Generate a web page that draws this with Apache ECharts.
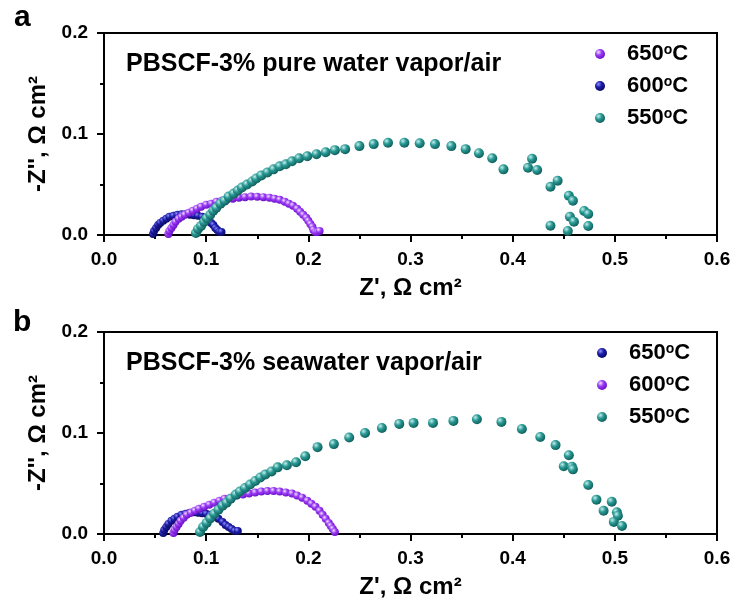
<!DOCTYPE html>
<html>
<head>
<meta charset="utf-8">
<script src="https://cdn.jsdelivr.net/npm/echarts@6/dist/echarts.min.js"></script>
<style>html,body{margin:0;padding:0;background:#fff}#c{width:737px;height:608px}</style>
</head>
<body>
<div id="c"></div>
<script>
// ---------- data (Z', -Z'') in ohm cm2 ----------
const xTicks = ['0.0','0.1','0.2','0.3','0.4','0.5','0.6'];
const yTicks = ['0.0','0.1','0.2'];

// panel a: pure water vapor/air
const aNames = ['650°C', '600°C', '550°C'];
const a650 = [[0.063,0.001],[0.064,0.004],[0.066,0.007],[0.068,0.010],[0.070,0.013],[0.073,0.016],[0.076,0.018],[0.079,0.020],[0.083,0.022],[0.087,0.024],[0.091,0.026],[0.095,0.028],[0.100,0.030],[0.105,0.031],[0.110,0.033],[0.115,0.034],[0.120,0.035],[0.126,0.036],[0.132,0.037],[0.138,0.0375],[0.144,0.038],[0.150,0.0378],[0.156,0.0375],[0.162,0.037],[0.167,0.036],[0.172,0.0348],[0.177,0.033],[0.181,0.031],[0.185,0.029],[0.189,0.026],[0.192,0.023],[0.195,0.020],[0.198,0.017],[0.200,0.014],[0.202,0.011],[0.204,0.008],[0.205,0.005],[0.207,0.003],[0.209,0.003],[0.211,0.004]];
const a600 = [[0.048,0.001],[0.049,0.004],[0.051,0.007],[0.053,0.010],[0.055,0.012],[0.058,0.014],[0.061,0.016],[0.064,0.018],[0.068,0.019],[0.072,0.020],[0.076,0.0205],[0.080,0.0205],[0.084,0.020],[0.088,0.0195],[0.092,0.019],[0.096,0.018],[0.099,0.016],[0.102,0.014],[0.105,0.012],[0.107,0.010],[0.109,0.007],[0.111,0.005],[0.113,0.003],[0.115,0.003]];
const a550 = [[0.090,0.002],[0.092,0.006],[0.095,0.009],[0.098,0.013],[0.1005,0.0165],[0.104,0.020],[0.107,0.024],[0.110,0.027],[0.114,0.031],[0.118,0.034],[0.122,0.038],[0.127,0.041],[0.131,0.044],[0.135,0.047],[0.140,0.050],[0.145,0.053],[0.149,0.056],[0.154,0.059],[0.160,0.062],[0.166,0.065],[0.172,0.068],[0.178,0.070],[0.184,0.073],[0.191,0.076],[0.199,0.078],[0.208,0.080],[0.217,0.082],[0.226,0.084],[0.236,0.085],[0.250,0.088],[0.264,0.090],[0.278,0.0914],[0.294,0.0914],[0.309,0.0908],[0.324,0.090],[0.340,0.088],[0.354,0.085],[0.367,0.081],[0.380,0.076],[0.391,0.065],[0.419,0.0755],[0.415,0.0666],[0.424,0.0644],[0.437,0.0478],[0.444,0.0538],[0.455,0.0389],[0.459,0.0339],[0.470,0.0238],[0.474,0.0208],[0.456,0.0181],[0.460,0.0132],[0.474,0.0089],[0.437,0.0092],[0.454,0.004]];

// panel b: seawater vapor/air
const bNames = ['650°C', '600°C', '550°C'];
const b650 = [[0.058,0.001],[0.059,0.004],[0.061,0.007],[0.063,0.010],[0.066,0.013],[0.069,0.015],[0.072,0.017],[0.076,0.019],[0.080,0.020],[0.084,0.021],[0.088,0.0215],[0.092,0.021],[0.096,0.0205],[0.100,0.020],[0.104,0.019],[0.108,0.017],[0.112,0.015],[0.116,0.012],[0.119,0.009],[0.122,0.007],[0.125,0.005],[0.128,0.003],[0.131,0.003]];
const b600 = [[0.068,0.001],[0.069,0.004],[0.071,0.007],[0.073,0.010],[0.075,0.013],[0.078,0.016],[0.081,0.019],[0.085,0.021],[0.089,0.023],[0.093,0.025],[0.098,0.027],[0.103,0.029],[0.108,0.031],[0.113,0.033],[0.118,0.035],[0.124,0.036],[0.130,0.038],[0.136,0.039],[0.142,0.040],[0.148,0.041],[0.154,0.042],[0.160,0.0425],[0.166,0.0425],[0.172,0.042],[0.178,0.041],[0.184,0.040],[0.189,0.038],[0.194,0.036],[0.199,0.033],[0.203,0.030],[0.207,0.027],[0.211,0.023],[0.214,0.019],[0.217,0.015],[0.220,0.011],[0.222,0.008],[0.224,0.005],[0.226,0.002]];
const b550 = [[0.094,0.002],[0.097,0.007],[0.1005,0.011],[0.104,0.0155],[0.108,0.020],[0.112,0.024],[0.116,0.028],[0.120,0.031],[0.124,0.035],[0.129,0.039],[0.133,0.042],[0.138,0.0455],[0.143,0.049],[0.148,0.0525],[0.153,0.056],[0.158,0.059],[0.164,0.062],[0.170,0.066],[0.179,0.068],[0.188,0.071],[0.197,0.077],[0.209,0.086],[0.225,0.089],[0.240,0.0955],[0.2555,0.100],[0.272,0.105],[0.289,0.109],[0.303,0.110],[0.322,0.110],[0.342,0.112],[0.365,0.1136],[0.389,0.111],[0.409,0.104],[0.427,0.096],[0.442,0.088],[0.455,0.078],[0.450,0.067],[0.458,0.0666],[0.459,0.064],[0.474,0.0485],[0.482,0.034],[0.497,0.032],[0.489,0.023],[0.502,0.0215],[0.503,0.018],[0.499,0.012],[0.507,0.008]];

const annoA = 'PBSCF-3% pure water vapor/air';
const annoB = 'PBSCF-3% seawater vapor/air';
const xTitle = "Z', Ω cm²";
const yTitle = "-Z'', Ω cm²";

// ---------- styling ----------
const FF = '"Liberation Sans", Arial, sans-serif';
function sphere(light, mid, dark) {
  return {type:'radial', x:0.35, y:0.32, r:0.7,
    colorStops:[{offset:0,color:light},{offset:0.45,color:mid},{offset:1,color:dark}]};
}
const VIOLET = sphere('#f1e2ff', '#9b3cf5', '#6a10c8');
const NAVY = sphere('#8f8fff', '#1c1ca8', '#0a0a60');
const TEAL = sphere('#c5efec', '#2a9994', '#0f5f5b');

function xAxis(gi) {
  return {
    gridIndex: gi, type:'value', min:0, max:0.6, interval:0.1,
    axisLine:{onZero:false, lineStyle:{color:'#000', width:2}},
    axisTick:{inside:false, length:7, lineStyle:{color:'#000', width:2}},
    minorTick:{show:true, splitNumber:2, length:4, lineStyle:{color:'#000', width:2}},
    splitLine:{show:false}, minorSplitLine:{show:false},
    axisLabel:{formatter:(v)=>xTicks[Math.round(v*10)], color:'#000', fontWeight:'bold', fontSize:19, fontFamily:FF, margin:15},
    name:xTitle, nameLocation:'middle', nameGap:41,
    nameTextStyle:{color:'#000', fontWeight:'bold', fontSize:24, fontFamily:FF}
  };
}
function yAxis(gi) {
  return {
    gridIndex: gi, type:'value', min:0, max:0.2, interval:0.1,
    axisLine:{onZero:false, lineStyle:{color:'#000', width:2}},
    axisTick:{inside:false, length:7, lineStyle:{color:'#000', width:2}},
    minorTick:{show:true, splitNumber:2, length:4, lineStyle:{color:'#000', width:2}},
    splitLine:{show:false}, minorSplitLine:{show:false},
    axisLabel:{formatter:(v)=>yTicks[Math.round(v*10)], color:'#000', fontWeight:'bold', fontSize:19, fontFamily:FF, margin:16},
    name:yTitle, nameLocation:'middle', nameGap:49, nameRotate:90,
    nameTextStyle:{color:'#000', fontWeight:'bold', fontSize:24, fontFamily:FF}
  };
}
function legendFmt(name) {
  const n = name.slice(2);
  const parts = n.split('°');
  return '{g| }{t|' + parts[0] + '}{s|o}{t|' + parts[1] + '}';
}
const legendRich = {
  g:{width:17},
  t:{fontSize:22, fontWeight:'bold', fontFamily:FF, color:'#000', lineHeight:22},
  s:{fontSize:14, fontWeight:'bold', fontFamily:FF, color:'#000', lineHeight:14, verticalAlign:'top'}
};
function legend(names, prefix, left, top) {
  return {
    data: names.map(n => prefix + n), orient:'vertical', left:left, top:top,
    itemWidth:10, itemHeight:10, itemGap:10, icon:'circle', padding:0,
    formatter: legendFmt, textStyle:{rich:legendRich, fontSize:22, lineHeight:22},
    selectedMode:false
  };
}
function sc(name, gi, data, color, size) {
  return {type:'scatter', name:name, xAxisIndex:gi, yAxisIndex:gi, data:data,
    symbol:'circle', symbolSize:size, itemStyle:{color:color, opacity:1}, silent:true};
}

const chart = echarts.init(document.getElementById('c'), null, {renderer:'canvas'});
chart.setOption({
  animation:false,
  backgroundColor:'#fff',
  grid:[
    {left:104, right:20, top:33, height:202, show:true, borderColor:'#000', borderWidth:2, backgroundColor:'transparent'},
    {left:104, right:20, top:332, height:202, show:true, borderColor:'#000', borderWidth:2, backgroundColor:'transparent'}
  ],
  xAxis:[xAxis(0), xAxis(1)],
  yAxis:[yAxis(0), yAxis(1)],
  legend:[legend(aNames, 'a-', 595, 43), legend(bNames, 'b-', 597, 342)],
  series:[
    sc('a-' + aNames[1], 0, a600, NAVY, 8),
    sc('a-' + aNames[0], 0, a650, VIOLET, 8),
    sc('a-' + aNames[2], 0, a550, TEAL, 10),
    sc('b-' + bNames[0], 1, b650, NAVY, 8),
    sc('b-' + bNames[1], 1, b600, VIOLET, 8),
    sc('b-' + bNames[2], 1, b550, TEAL, 10)
  ],
  graphic:[
    {type:'text', x:14, y:17.5, style:{text:'a', fontSize:30, fontWeight:'bold', fontFamily:FF, fill:'#000', verticalAlign:'middle'}},
    {type:'text', x:13, y:322.5, style:{text:'b', fontSize:30, fontWeight:'bold', fontFamily:FF, fill:'#000', verticalAlign:'middle'}},
    {type:'text', x:126, y:64.5, style:{text:annoA, fontSize:25, fontWeight:'bold', fontFamily:FF, fill:'#000', verticalAlign:'middle'}},
    {type:'text', x:126, y:363.3, style:{text:annoB, fontSize:25, fontWeight:'bold', fontFamily:FF, fill:'#000', verticalAlign:'middle'}}
  ]
});
</script>
</body>
</html>
